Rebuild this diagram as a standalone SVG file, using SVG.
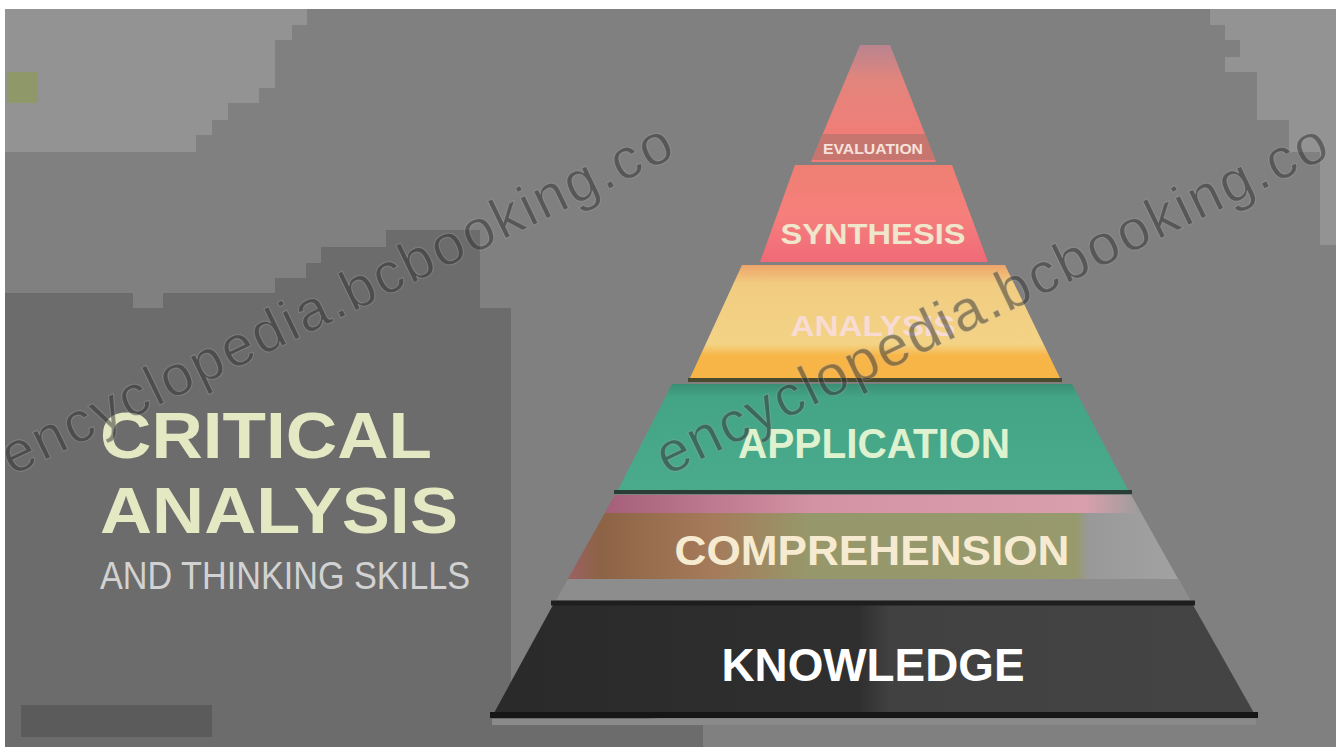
<svg xmlns="http://www.w3.org/2000/svg" width="1336" height="747" viewBox="0 0 1336 747">
  <defs>
    <style>
      .lbl { font-family: "Liberation Sans", Arial, sans-serif; font-weight: 700; text-anchor: middle; }
      .title { font-family: "Liberation Sans", Arial, sans-serif; font-weight: 700; fill: #e4e8c3; }
      .sub { font-family: "Liberation Sans", Arial, sans-serif; font-weight: 400; fill: #d2d2d2; }
      .wm { font-family: "Liberation Sans", Arial, sans-serif; font-size: 57px; fill: #2e2e2e; fill-opacity: 0.5; stroke: #c8c8c8; stroke-opacity: 0.3; stroke-width: 1; }
      .ledge { stroke-linecap: butt; }
    </style>
    <linearGradient id="gTip" x1="0" y1="0" x2="0" y2="1">
      <stop offset="0" stop-color="#b9848f"/>
      <stop offset="0.3" stop-color="#e2857c"/>
      <stop offset="0.75" stop-color="#f07d78"/>
      <stop offset="1" stop-color="#ee7b76"/>
    </linearGradient>
    <linearGradient id="gSyn" x1="0" y1="0" x2="0" y2="1">
      <stop offset="0" stop-color="#ee7f72"/>
      <stop offset="0.5" stop-color="#f6807c"/>
      <stop offset="1" stop-color="#f06a78"/>
    </linearGradient>
    <linearGradient id="gAna" x1="0" y1="0" x2="0" y2="1">
      <stop offset="0" stop-color="#eea46a"/>
      <stop offset="0.16" stop-color="#f1cc80"/>
      <stop offset="0.7" stop-color="#f3d386"/>
      <stop offset="0.8" stop-color="#f8b648"/>
      <stop offset="1" stop-color="#f7b447"/>
    </linearGradient>
    <linearGradient id="gApp" x1="0" y1="0" x2="0" y2="1">
      <stop offset="0" stop-color="#3a8e74"/>
      <stop offset="0.12" stop-color="#44a486"/>
      <stop offset="1" stop-color="#4aab8c"/>
    </linearGradient>
    <linearGradient id="gCom" x1="556" y1="0" x2="1190" y2="0" gradientUnits="userSpaceOnUse">
      <stop offset="0" stop-color="#a0606e"/>
      <stop offset="0.07" stop-color="#8d6345"/>
      <stop offset="0.25" stop-color="#a57b5b"/>
      <stop offset="0.4" stop-color="#96986b"/>
      <stop offset="0.82" stop-color="#979a6d"/>
      <stop offset="0.84" stop-color="#999999"/>
      <stop offset="1" stop-color="#a3a3a3"/>
    </linearGradient>
    <linearGradient id="gComTop" x1="600" y1="0" x2="1140" y2="0" gradientUnits="userSpaceOnUse">
      <stop offset="0" stop-color="#a45e78"/>
      <stop offset="0.4" stop-color="#d493a5"/>
      <stop offset="0.9" stop-color="#d99fad"/>
      <stop offset="1" stop-color="#9c9c9c"/>
    </linearGradient>
    <linearGradient id="gKno" x1="494" y1="0" x2="1254" y2="0" gradientUnits="userSpaceOnUse">
      <stop offset="0" stop-color="#2a2a2a"/>
      <stop offset="0.48" stop-color="#2f2f2f"/>
      <stop offset="0.52" stop-color="#414141"/>
      <stop offset="1" stop-color="#444444"/>
    </linearGradient>
    <clipPath id="cTip"><polygon points="860,45 890,45 936,162 811,162"/></clipPath>
    <clipPath id="cCom"><polygon points="615,495 1131,495 1190,600 556,600"/></clipPath>
  </defs>

  <!-- backdrop -->
  <g id="backdrop">
    <rect x="0" y="0" width="1336" height="747" fill="#ffffff"/>
    <rect x="5" y="9" width="1331" height="738" fill="#808080"/>
    <polygon fill="#939393" points="5,9 307,9 307,25 292,25 292,40 275,40 275,88 259,88 259,103 228,103 228,120 212,120 212,135 196,135 196,152 5,152"/>
    <polygon fill="#939393" points="1210,9 1336,9 1336,245 1320,245 1320,152 1289,152 1289,120 1257,120 1257,72 1225,72 1225,57 1240,57 1240,40 1225,40 1225,25 1210,25"/>
    <polygon fill="#6c6c6c" points="5,293 133,293 133,308 163,308 163,293 275,293 275,278 306,278 306,263 321,263 321,247 386,247 386,230 480,230 480,308 511,308 511,700 560,712 703,722 703,747 5,747"/>
    <rect x="21" y="705" width="191" height="32" fill="#5b5b5b"/>
    <rect x="7" y="72" width="31" height="31" fill="#8f9868"/>
  </g>

  <!-- title block -->
  <g id="title">
    <text class="title" x="100" y="458" font-size="64" textLength="332" lengthAdjust="spacingAndGlyphs">CRITICAL</text>
    <text class="title" x="100" y="533" font-size="64" textLength="358" lengthAdjust="spacingAndGlyphs">ANALYSIS</text>
    <text class="sub" x="100" y="589" font-size="38" textLength="370" lengthAdjust="spacingAndGlyphs">AND THINKING SKILLS</text>
  </g>

  <!-- pyramid tiers, top to bottom -->
  <g id="tier-evaluation">
    <polygon points="860,45 890,45 936,162 811,162" fill="url(#gTip)"/>
    <rect x="800" y="134" width="150" height="26" fill="#c6766e" clip-path="url(#cTip)"/>
    <text class="lbl" x="873" y="154" font-size="15" fill="#f6e2dc" textLength="100" lengthAdjust="spacingAndGlyphs">EVALUATION</text>
  </g>

  <g id="tier-synthesis">
    <polygon points="795,165 952,165 988,262 760,262" fill="url(#gSyn)"/>
    <text class="lbl" x="873" y="244" font-size="30" fill="#efe6cc" textLength="185" lengthAdjust="spacingAndGlyphs">SYNTHESIS</text>
  </g>

  <g id="tier-analysis">
    <polygon points="742,265 1005,265 1060,378 690,378" fill="url(#gAna)"/>
    <text class="lbl" x="873" y="336" font-size="30" fill="#f8dcd4" textLength="165" lengthAdjust="spacingAndGlyphs">ANALYSIS</text>
  </g>

  <g id="tier-application">
    <polygon points="672,384 1072,384 1128,490 618,490" fill="url(#gApp)"/>
    <text class="lbl" x="874" y="458" font-size="42" fill="#def2cf" textLength="272" lengthAdjust="spacingAndGlyphs">APPLICATION</text>
  </g>

  <g id="tier-comprehension">
    <polygon points="615,495 1131,495 1190,600 556,600" fill="url(#gCom)"/>
    <rect x="550" y="495" width="650" height="18" fill="url(#gComTop)" clip-path="url(#cCom)"/>
    <rect x="550" y="579" width="650" height="21" fill="#8d8d8d" clip-path="url(#cCom)"/>
    <text class="lbl" x="872" y="565" font-size="42" fill="#f6ebd0" textLength="395" lengthAdjust="spacingAndGlyphs">COMPREHENSION</text>
  </g>

  <g id="tier-knowledge">
    <polygon points="553,605 1193,605 1254,713 494,713" fill="url(#gKno)"/>
    <text class="lbl" x="873" y="681" font-size="46" fill="#ffffff" textLength="303" lengthAdjust="spacingAndGlyphs">KNOWLEDGE</text>
  </g>

  <!-- ledges between tiers -->
  <g id="ledges" class="ledge">
    <line x1="688" y1="380" x2="1062" y2="380" stroke="#4a4a2e" stroke-width="4"/>
    <line x1="614" y1="492" x2="1132" y2="492" stroke="#2a3e38" stroke-width="4"/>
    <line x1="551" y1="603" x2="1195" y2="603" stroke="#1e1e1e" stroke-width="5"/>
    <line x1="490" y1="715" x2="1258" y2="715" stroke="#161616" stroke-width="6"/>
    <line x1="492" y1="722" x2="1256" y2="722" stroke="#8a8a8a" stroke-width="6"/>
  </g>

  <!-- overlay marks -->
  <g id="overlay">
    <text class="wm" transform="translate(12,476) rotate(-25.7)" textLength="738" lengthAdjust="spacing">encyclopedia.bcbooking.co</text>
    <text class="wm" transform="translate(667,476) rotate(-25.7)" textLength="738" lengthAdjust="spacing">encyclopedia.bcbooking.co</text>
  </g>
</svg>
